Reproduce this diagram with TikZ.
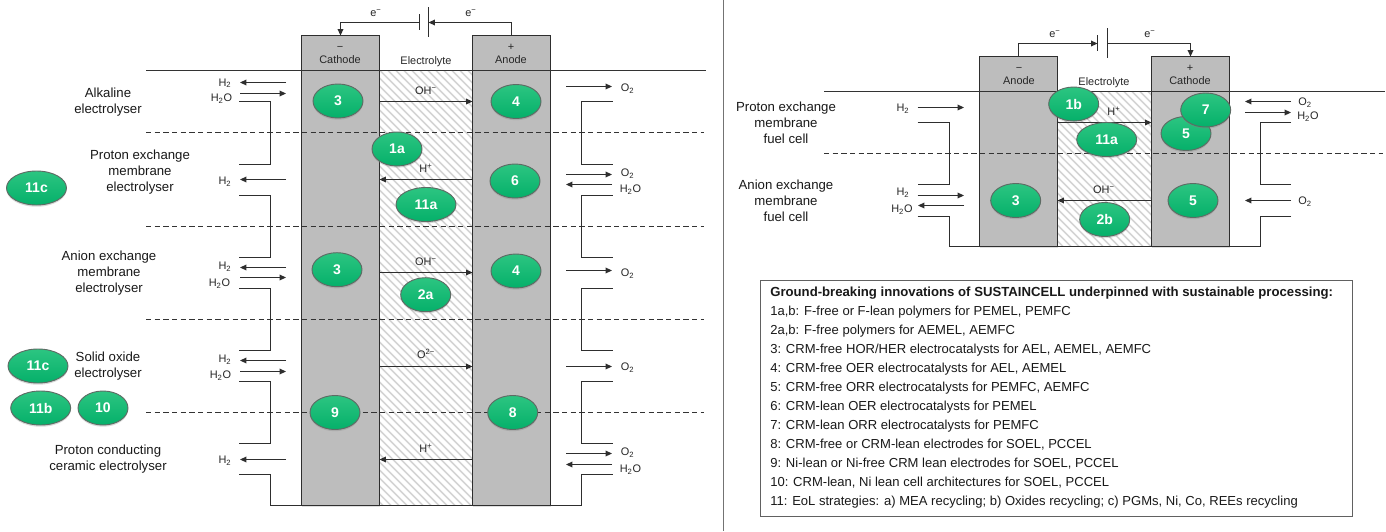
\documentclass[tikz,border=0pt]{standalone}
\usepackage{fontspec}
\setmainfont{Liberation Sans}
\usetikzlibrary{arrows.meta,shapes.geometric,shadows}
\definecolor{cellgray}{HTML}{BDBDBD}
\definecolor{linedark}{HTML}{2E2E2E}
\definecolor{hatchgray}{HTML}{D4D4D4}
\definecolor{greentop}{HTML}{2CC581}
\definecolor{greenbot}{HTML}{05B06A}
\definecolor{badgeline}{HTML}{5E6B64}
\newcommand{\lowd}{\textsubscript{2}}
\newcommand{\upm}{\textsuperscript{−}}
\tikzset{
  cellbox/.style={draw=linedark,line width=1.4pt,fill=cellgray,inner sep=0pt,outer sep=0pt,
    drop shadow={shadow xshift=0.6pt,shadow yshift=-0.8pt,opacity=.25}},
  wire/.style={draw=linedark,line width=1.05pt},
  flow/.style={wire,-{Triangle[length=4.8pt,width=4.2pt]}},
  plate/.style={draw=linedark,line width=1.05pt},
  rule/.style={draw=black!80,line width=1.05pt},
  dashrule/.style={draw=black!80,line width=1.05pt,dash pattern=on 3.9pt off 2.6pt},
  small/.style={font=\fontsize{8.2}{10}\selectfont,text=black!85,inner sep=0pt,anchor=mid},
  side/.style={font=\fontsize{9.9}{12}\selectfont,text=black!90,inner sep=0pt,align=center},
  listline/.style={font=\fontsize{9.78}{12}\selectfont,text=black!90,inner sep=0pt,anchor=mid west},
  badge/.style={ellipse,draw=badgeline,line width=.7pt,top color=greentop,bottom color=greenbot,
    text=white,font=\fontsize{10.5}{12}\selectfont\bfseries,inner sep=0pt,
    minimum width=37.5pt,minimum height=25.5pt,
    drop shadow={shadow xshift=0pt,shadow yshift=-1.3pt,opacity=.3}},
  wide/.style={badge,minimum width=45pt},
}
\begin{document}
\begin{tikzpicture}[x=.75pt,y=-.75pt]
\useasboundingbox[fill=white] (0,0) rectangle (1386,532);
% divider
\coordinate (divT) at (723.5,0); \coordinate (divB) at (723.5,531);
\draw[draw=black!55,line width=.75pt] (divT) -- (divB);

% ---------- left cell ----------
\begin{scope}
\clip (379.5,70.5) rectangle (472.5,505.5);
\foreach \k in {0,...,70} \draw[hatchgray,line width=1.2pt] ({-60+8*\k},70.5) -- ++(440,440);
\end{scope}
\node[cellbox,minimum width=58.5pt,minimum height=352.5pt] (catL) at (340.5,270.5) {};
\node[cellbox,minimum width=58.5pt,minimum height=352.5pt] (anL) at (511.5,270.5) {};
\draw[wire,line width=1.4pt] (catL.south east) -- (anL.south west);

\coordinate (tlA) at (146,70.5); \coordinate (tlB) at (706,70.5);
\draw[rule] (tlA) -- (tlB);
\foreach \n/\y in {a/132.5,b/226.5,c/319.5,d/412.5}{
  \coordinate (dl\n) at (146,\y); \coordinate (dr\n) at (704,\y);
  \draw[dashrule] (dl\n) -- (dr\n);
}
% battery
\coordinate (batS1) at (419.5,14); \coordinate (batS2) at (419.5,30);
\coordinate (batL1) at (428.5,7); \coordinate (batL2) at (428.5,37);
\draw[plate] (batS1) -- (batS2);
\draw[plate] (batL1) -- (batL2);
\coordinate (batSm) at (419.5,22.5); \coordinate (batLm) at (428.5,22.5);
\draw[flow] (batSm) -| (catL.north);
\draw[flow] (anL.north) |- (batLm);
\node[small] (eL1) at (376,13) {e\upm};
\node[small] (eL2) at (471,13) {e\upm};
\node[small] (minusL) at (340,47) {−};
\node[small] (cathL) at (340,60) {Cathode};
\node[small] (plusL) at (511,47) {+};
\node[small] (anodeL) at (511,60) {Anode};
\node[small] (elytL) at (426,60.5) {Electrolyte};

% ion arrows, left
\foreach \n/\y/\t/\ly in {a/101.5/{OH\upm}/91,c/272.5/{OH\upm}/262,d/366.5/{O\textsuperscript{2−}}/355}{
  \coordinate (ia\n) at (379.5,\y); \coordinate (ib\n) at (472.5,\y);
  \draw[flow] (ia\n) -- (ib\n);
  \node[small] (il\n) at (426,\ly) {\t};
}
\foreach \n/\y/\ly in {b/179.5/169,e/459.5/449}{
  \coordinate (ia\n) at (379.5,\y); \coordinate (ib\n) at (472.5,\y);
  \draw[flow] (ib\n) -- (ia\n);
  \node[small] (il\n) at (426,\ly) {H\textsuperscript{+}};
}
% left-side flows: leftward H2
\foreach \n/\y in {a/82.5,b/179.5,c/267.5,d/360.5,e/459.5}{
  \coordinate (hA\n) at (286,\y); \coordinate (hB\n) at (240,\y);
  \draw[flow] (hA\n) -- (hB\n);
}
\foreach \n/\y in {a/93.5,c/277.5,d/371.5}{
  \coordinate (wA\n) at (240,\y); \coordinate (wB\n) at (286,\y);
  \draw[flow] (wA\n) -- (wB\n);
}
\foreach \n/\x/\y in {a/225/82.5,b/225/181,c/225/266,d/225/359,e/225/460}
  \node[small] (hL\n) at (\x,\y) {H\lowd};
\foreach \n/\x/\y in {a/221.5/98,c/219.5/283,d/220.5/375}
  \node[small] (wL\n) at (\x,\y) {H\lowd O};
% left brackets
\foreach \n/\ya/\yb in {a/101.5/164.5,b/195.5/257.5,c/288.5/350.5,d/381.5/443.5}{
  \coordinate (bl\n) at (239,\ya); \coordinate (bk\n) at (270.5,\ya);
  \coordinate (bm\n) at (270.5,\yb); \coordinate (be\n) at (239,\yb);
  \draw[wire] (bl\n) -- (bk\n) -- (bm\n) -- (be\n);
}
\coordinate (ble) at (239,474.5); \coordinate (bke) at (270.5,474.5); \coordinate (bme) at (270.5,505.5);
\draw[wire] (ble) -- (bke) -- (bme) -- (catL.south west);

% right-side flows
\foreach \n/\y in {a/86.5,b/174.5,c/270.5,d/366.5,e/453.5}{
  \coordinate (oA\n) at (566,\y); \coordinate (oB\n) at (612,\y);
  \draw[flow] (oA\n) -- (oB\n);
}
\foreach \n/\y in {b/184.5,e/464.5}{
  \coordinate (xA\n) at (612,\y); \coordinate (xB\n) at (566,\y);
  \draw[flow] (xA\n) -- (xB\n);
}
\foreach \n/\y in {a/88,b/173,c/273,d/367,e/452}
  \node[small] (oL\n) at (627.5,\y) {O\lowd};
\foreach \n/\y in {b/189,e/469}
  \node[small] (xL\n) at (630.5,\y) {H\lowd O};
\foreach \n/\ya/\yb in {a/101.5/164.5,b/195.5/257.5,c/288.5/350.5,d/381.5/443.5}{
  \coordinate (rl\n) at (612.5,\ya); \coordinate (rk\n) at (581.5,\ya);
  \coordinate (rm\n) at (581.5,\yb); \coordinate (re\n) at (612.5,\yb);
  \draw[wire] (rl\n) -- (rk\n) -- (rm\n) -- (re\n);
}
\coordinate (rle) at (612.5,474.5); \coordinate (rke) at (581.5,474.5); \coordinate (rme) at (581.5,505.5);
\draw[wire] (rle) -- (rke) -- (rme) -- (anL.south east);

% side labels
\node[side] (t1) at (108,102) {Alkaline\\electrolyser};
\node[side] (t2) at (140,172) {Proton exchange\\membrane\\electrolyser};
\node[side] (t3) at (109,273) {Anion exchange\\membrane\\electrolyser};
\node[side] (t4) at (108,366) {Solid oxide\\electrolyser};
\node[side] (t5) at (108,459) {Proton conducting\\ceramic electrolyser};

% badges, left
\node[badge] (b3a) at (338,101) {3};
\node[badge] (b4a) at (516,101.5) {4};
\node[badge] (b1a) at (397,149) {1a};
\node[badge] (b6) at (515,181) {6};
\node[wide] (b11a) at (426,204.5) {11a};
\node[badge] (b3b) at (337,269.7) {3};
\node[badge] (b4b) at (516,271) {4};
\node[badge] (b2a) at (425.7,294.7) {2a};
\node[badge] (b9) at (335,412.5) {9};
\node[badge] (b8) at (512.7,412.5) {8};
\node[wide] (b11c) at (36.5,188) {11c};
\node[wide] (b11cc) at (38,366) {11c};
\node[wide] (b11b) at (40.7,408) {11b};
\node[badge] (b10) at (103,408) {10};

% ---------- right cell ----------
\begin{scope}
\clip (1057.5,91.5) rectangle (1151.5,246.5);
\foreach \k in {0,...,45} \draw[hatchgray,line width=1.2pt] ({900+8*\k},91.5) -- ++(160,160);
\end{scope}
\node[cellbox,minimum width=58.5pt,minimum height=142.5pt] (anR) at (1018.5,151.5) {};
\node[cellbox,minimum width=58.5pt,minimum height=142.5pt] (catR) at (1190.5,151.5) {};
\draw[wire,line width=1.4pt] (anR.south east) -- (catR.south west);

\coordinate (trA) at (824,91.5); \coordinate (trB) at (1385,91.5);
\draw[rule] (trA) -- (trB);
\coordinate (drA) at (824,153.5); \coordinate (drB) at (1383,153.5);
\draw[dashrule] (drA) -- (drB);

\coordinate (rbS1) at (1097.5,35); \coordinate (rbS2) at (1097.5,50.7);
\coordinate (rbL1) at (1107.5,28); \coordinate (rbL2) at (1107.5,58);
\draw[plate] (rbS1) -- (rbS2);
\draw[plate] (rbL1) -- (rbL2);
\coordinate (rbSm) at (1097.5,43.5); \coordinate (rbLm) at (1107.5,43.5);
\draw[flow] (anR.north) |- (rbSm);
\draw[flow] (rbLm) -| (catR.north);
\node[small] (eR1) at (1055,33.5) {e\upm};
\node[small] (eR2) at (1150,33.5) {e\upm};
\node[small] (minusR) at (1019,68) {−};
\node[small] (anodeR) at (1019,81) {Anode};
\node[small] (plusR) at (1190,68) {+};
\node[small] (cathR) at (1190,81) {Cathode};
\node[small] (elytR) at (1104,81.5) {Electrolyte};

\coordinate (iRa) at (1057.5,122.5); \coordinate (iRb) at (1151.5,122.5);
\draw[flow] (iRa) -- (iRb);
\node[small] (iRl1) at (1114,112) {H\textsuperscript{+}};
\coordinate (iRc) at (1151.5,200.5); \coordinate (iRd) at (1057.5,200.5);
\draw[flow] (iRc) -- (iRd);
\node[small] (iRl2) at (1104,190) {OH\upm};

\coordinate (fa1) at (917.7,107.5); \coordinate (fa2) at (964,107.5);
\draw[flow] (fa1) -- (fa2);
\coordinate (fb1) at (917.7,195.5); \coordinate (fb2) at (964,195.5);
\draw[flow] (fb1) -- (fb2);
\coordinate (fc1) at (964,205.5); \coordinate (fc2) at (918,205.5);
\draw[flow] (fc1) -- (fc2);
\node[small] (fL1) at (903,108) {H\lowd};
\node[small] (fL2) at (903,192) {H\lowd};
\node[small] (fL3) at (902,209) {H\lowd O};

\coordinate (gl1) at (917.7,122.5); \coordinate (gl2) at (949.5,122.5);
\coordinate (gl3) at (949.5,184.5); \coordinate (gl4) at (917.7,184.5);
\draw[wire] (gl1) -- (gl2) -- (gl3) -- (gl4);
\coordinate (gl5) at (917.7,216.5); \coordinate (gl6) at (949.5,216.5); \coordinate (gl7) at (949.5,246.5);
\draw[wire] (gl5) -- (gl6) -- (gl7) -- (anR.south west);

\coordinate (ga1) at (1291,101.5); \coordinate (ga2) at (1245,101.5);
\draw[flow] (ga1) -- (ga2);
\coordinate (gb1) at (1245,112.5); \coordinate (gb2) at (1291,112.5);
\draw[flow] (gb1) -- (gb2);
\coordinate (gc1) at (1291,200.5); \coordinate (gc2) at (1245,200.5);
\draw[flow] (gc1) -- (gc2);
\node[small] (gL1) at (1305,102) {O\lowd};
\node[small] (gL2) at (1308,116) {H\lowd O};
\node[small] (gL3) at (1305,201) {O\lowd};

\coordinate (gr1) at (1291,122.5); \coordinate (gr2) at (1260.5,122.5);
\coordinate (gr3) at (1260.5,184.5); \coordinate (gr4) at (1291,184.5);
\draw[wire] (gr1) -- (gr2) -- (gr3) -- (gr4);
\coordinate (gr5) at (1291,216.5); \coordinate (gr6) at (1260.5,216.5); \coordinate (gr7) at (1260.5,246.5);
\draw[wire] (gr5) -- (gr6) -- (gr7) -- (catR.south east);

\node[side] (t6) at (786,123) {Proton exchange\\membrane\\fuel cell};
\node[side] (t7) at (786,201) {Anion exchange\\membrane\\fuel cell};

\node[badge] (c1b) at (1073.7,104) {1b};
\node[wide] (c11a) at (1106.7,139.5) {11a};
\node[badge] (c5a) at (1186,133.5) {5};
\node[badge] (c7) at (1205.7,110) {7};
\node[badge] (c3) at (1015.7,200.5) {3};
\node[badge] (c5b) at (1193,200.5) {5};
\node[badge] (c2b) at (1104.7,219.5) {2b};

% ---------- legend ----------
\coordinate (lgA) at (760.5,280.5); \coordinate (lgB) at (1352.5,516.5);
\draw[draw=black!62,line width=.75pt,fill=white] (lgA) rectangle (lgB);
\node[listline,font=\fontsize{9.87}{12}\selectfont\bfseries] (l0) at (770,292.7) {Ground-breaking innovations of SUSTAINCELL underpinned with sustainable processing:};
\node[listline] (l1) at (770,311.7) {1a,b: F-free or F-lean polymers for PEMEL, PEMFC};
\node[listline] (l2) at (770,330.8) {2a,b: F-free polymers for AEMEL, AEMFC};
\node[listline] (l3) at (770,349.8) {3: CRM-free HOR/HER electrocatalysts for AEL, AEMEL, AEMFC};
\node[listline] (l4) at (770,368.8) {4: CRM-free OER electrocatalysts for AEL, AEMEL};
\node[listline] (l5) at (770,387.9) {5: CRM-free ORR electrocatalysts for PEMFC, AEMFC};
\node[listline] (l6) at (770,406.9) {6: CRM-lean OER electrocatalysts for PEMEL};
\node[listline] (l7) at (770,425.9) {7: CRM-lean ORR electrocatalysts for PEMFC};
\node[listline] (l8) at (770,445) {8: CRM-free or CRM-lean electrodes for SOEL, PCCEL};
\node[listline] (l9) at (770,464) {9: Ni-lean or Ni-free CRM lean electrodes for SOEL, PCCEL};
\node[listline] (l10) at (770,483) {10: CRM-lean, Ni lean cell architectures for SOEL, PCCEL};
\node[listline] (l11) at (770,502) {11: EoL strategies: a) MEA recycling; b) Oxides recycling; c) PGMs, Ni, Co, REEs recycling};
\end{tikzpicture}
\end{document}
